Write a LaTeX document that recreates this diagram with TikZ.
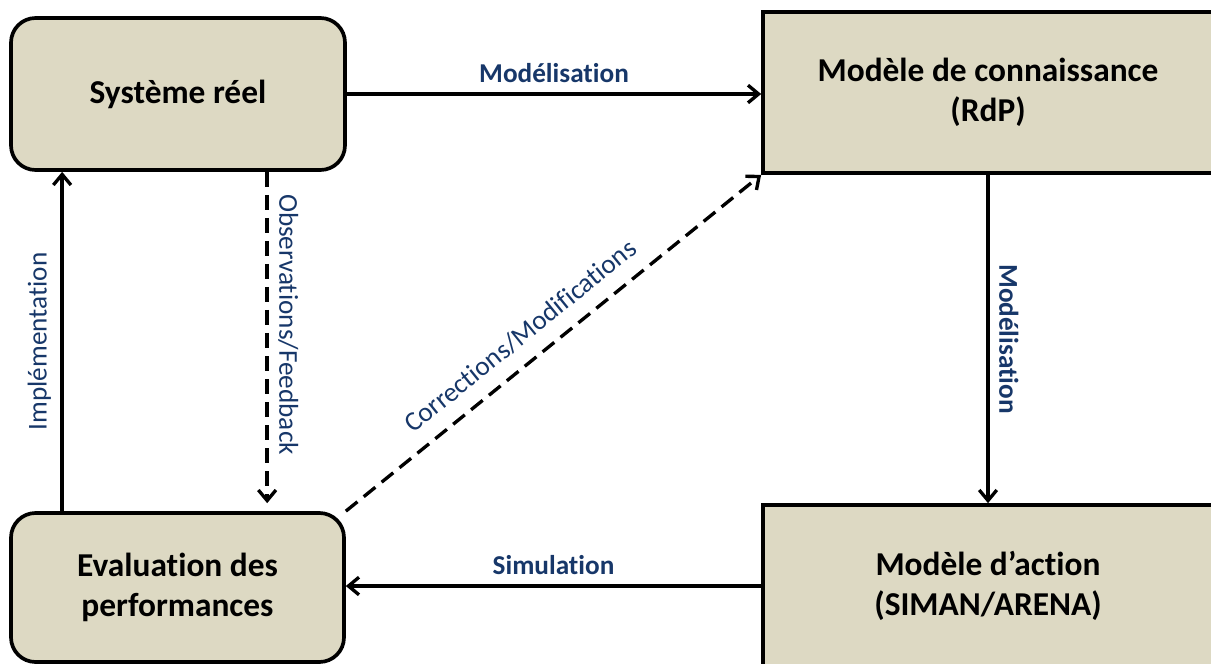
\documentclass[tikz,border=0pt]{standalone}
\usepackage{fontspec}
\setmainfont{Carlito}[Ligatures=NoCommon]
\usetikzlibrary{arrows.meta,backgrounds}
\definecolor{boxtan}{RGB}{221,217,195}
\definecolor{labelblue}{RGB}{23,55,105}

\begin{document}
\begin{tikzpicture}[
    bloc/.style={draw=black, line width=2.1pt, fill=boxtan, align=center,
        font=\fontsize{19}{23}\selectfont\bfseries},
    flow/.style={line width=1.9pt, -{Straight Barb[length=6pt,width=10pt]}},
    fb/.style={flow, dash pattern=on 8.5pt off 4.6pt},
    lbl/.style={text=labelblue, font=\fontsize{15.5}{18}\selectfont},
    lblb/.style={text=labelblue, font=\fontsize{15.5}{18}\selectfont\bfseries}
]
    \useasboundingbox (0,0) rectangle (24.22,-13.28);

    % Real system and evaluation (rounded boxes, left)
    \node[bloc, rounded corners=14pt, minimum width=6.68cm, minimum height=3.04cm] (sys) at (3.56,-1.88) {Système réel};
    \node[bloc, rounded corners=14pt, minimum width=6.66cm, minimum height=2.98cm] (eval) at (3.55,-11.75) {Evaluation des\\performances};

    % Models (square boxes, right, cut by the border)
    \node[bloc, minimum width=9cm, minimum height=3.22cm] (conn) at (19.76,-1.85) {Modèle de connaissance\\(RdP)};
    \node[bloc, minimum width=9cm, minimum height=3.24cm] (act) at (19.76,-11.72) {Modèle d'action\\(SIMAN/ARENA)};

    % Helper points for the vertical links
    \coordinate (impl) at ([xshift=1.06cm]eval.north west);
    \coordinate (obs) at ([xshift=5.16cm]sys.south west);

    % Solid links
    \draw[flow] (sys.east) -- (sys.east -| conn.west)
        node[lblb, midway, above=2pt] {Modélisation};
    \draw[flow] (conn.south) -- (act.north)
        node[lblb, midway, sloped, above=2pt] {Modélisation};
    \draw[flow] (act.west) -- (act.west -| eval.east)
        node[lblb, midway, above=2pt] {Simulation};
    \draw[flow] (impl) -- (impl |- sys.south)
        node[lbl, midway, sloped, above=2pt] {Implémentation};

    % Feedback links (dashed)
    \draw[fb, shorten >=0.16cm] (obs) -- (obs |- eval.north)
        node[lbl, pos=0.45, sloped, above=2pt] {Observations/Feedback};
    \begin{scope}[on background layer]
        \draw[fb] (eval.north east) -- (conn.south west)
            node[lbl, pos=0.46, sloped, above=5pt] {Corrections/Modifications};
    \end{scope}
\end{tikzpicture}
\end{document}
